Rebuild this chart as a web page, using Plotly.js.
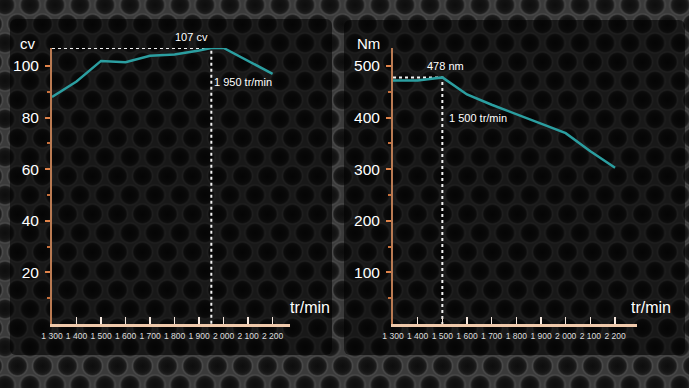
<!DOCTYPE html>
<html>
<head>
<meta charset="utf-8">
<script src="https://cdn.plot.ly/plotly-3.0.1.min.js"></script>
<style>
  html, body { margin:0; padding:0; }
  body {
    width:689px; height:388px; overflow:hidden; position:relative;
    background-color:#3a3a3a;
    background-image:
      radial-gradient(circle, #0d0d0d 0, #141414 6px, #1e1e1e 8.5px, #4a4a4a 10px, rgba(0,0,0,0) 11.5px),
      radial-gradient(circle, #0d0d0d 0, #141414 6px, #1e1e1e 8.5px, #4a4a4a 10px, rgba(0,0,0,0) 11.5px);
    background-size:25px 38px, 25px 38px;
    background-position:-7.5px -14px, 5px 5px;
  }
  .panel { position:absolute; background:rgba(0,0,0,0.58); border-radius:6px; }
  #chart { position:absolute; left:0; top:0; width:689px; height:388px; }
</style>
</head>
<body>
<div class="panel" style="left:10px; top:19px; width:322px; height:336px;"></div>
<div class="panel" style="left:344px; top:20px; width:341px; height:335px;"></div>
<div id="chart"></div>
<script>
// ---- data ----
const rpm = [1300, 1400, 1500, 1600, 1700, 1800, 1900, 1950, 2000, 2200];
const powerCv = [88, 94, 102, 101.5, 104, 104.5, 106, 107, 107, 97];
const rpmTorque = [1300, 1400, 1500, 1600, 1700, 1800, 1900, 2000, 2100, 2200];
const torqueNm = [472, 472, 478, 445, 425, 407, 389, 370, 335, 303];
const peakPowerRpm = 1950, peakPower = 107;
const peakTorqueRpm = 1500, peakTorque = 478;
const xTicks = [1300, 1400, 1500, 1600, 1700, 1800, 1900, 2000, 2100, 2200];
const xTickLabels = ["1 300", "1 400", "1 500", "1 600", "1 700", "1 800", "1 900", "2 000", "2 100", "2 200"];
const cvTicks = [20, 40, 60, 80, 100];
const cvMinor = [10, 30, 50, 70, 90];
const nmTicks = [100, 200, 300, 400, 500];
const nmMinor = [50, 150, 250, 350, 450];

// ---- layout helpers ----
const W = 689, H = 388;
const px = v => v / W;
const py = v => 1 - v / H;
const teal = '#2b9ea0';
const font = 'Arial, "Liberation Sans", sans-serif';

const traces = [
  {x: [rpm[0], peakPowerRpm, peakPowerRpm], y: [peakPower, peakPower, 0], xaxis: 'x', yaxis: 'y',
   mode: 'lines', line: {color: '#f2f2f2', width: 2, dash: 'dot'}, hoverinfo: 'skip'},
  {x: rpm, y: powerCv, xaxis: 'x', yaxis: 'y', mode: 'lines', line: {color: teal, width: 2.5}},
  {x: [rpmTorque[0], peakTorqueRpm, peakTorqueRpm], y: [peakTorque, peakTorque, 0], xaxis: 'x2', yaxis: 'y2',
   mode: 'lines', line: {color: '#f2f2f2', width: 2, dash: 'dot'}, hoverinfo: 'skip'},
  {x: rpmTorque, y: torqueNm, xaxis: 'x2', yaxis: 'y2', mode: 'lines', line: {color: teal, width: 2.5}}
];

function xAxis(domain, range, anchor) {
  return {
    domain: domain, range: range, anchor: anchor,
    tickvals: xTicks, ticktext: xTickLabels,
    ticks: 'inside', ticklen: 7, tickwidth: 1.5, tickcolor: '#f4e6dc',
    showline: true, linecolor: '#efc9ab', linewidth: 2.5,
    showgrid: false, zeroline: false, fixedrange: true,
    tickfont: {family: font, size: 8.5, color: '#dddddd'}, ticklabelstandoff: 2
  };
}
function yAxis(domain, range, anchor, major, minor) {
  return {
    domain: domain, range: range, anchor: anchor,
    tickvals: major, ticks: 'outside', ticklen: 5, tickwidth: 2, tickcolor: '#e0834a',
    minor: {tickvals: minor, ticks: 'outside', ticklen: 3, tickwidth: 2, tickcolor: '#c8703c'},
    showline: true, linecolor: '#b97a52', linewidth: 2,
    showgrid: false, zeroline: false, fixedrange: true,
    tickfont: {family: font, size: 15.5, color: '#ffffff'}, ticklabelstandoff: 3
  };
}

const yDom = [py(324), py(48)];
const layout = {
  width: W, height: H, margin: {l: 0, r: 0, t: 0, b: 0},
  paper_bgcolor: 'rgba(0,0,0,0)', plot_bgcolor: 'rgba(0,0,0,0)',
  showlegend: false,
  xaxis: xAxis([px(52), px(290)], [1300, 2271], 'y'),
  yaxis: yAxis(yDom, [0, 107], 'x', cvTicks, cvMinor),
  xaxis2: xAxis([px(393), px(637)], [1300, 2289], 'y2'),
  yaxis2: yAxis(yDom, [0, 535], 'x2', nmTicks, nmMinor),
  annotations: [
    {text: 'cv', xref: 'paper', yref: 'paper', x: px(28), y: py(43), xanchor: 'center', yanchor: 'middle', showarrow: false,
     font: {family: font, size: 15, color: '#fff'}},
    {text: 'tr/min', xref: 'paper', yref: 'paper', x: px(310), y: py(307), xanchor: 'center', yanchor: 'middle', showarrow: false,
     font: {family: font, size: 16, color: '#fff'}},
    {text: 'Nm', xref: 'paper', yref: 'paper', x: px(368), y: py(43), xanchor: 'center', yanchor: 'middle', showarrow: false,
     font: {family: font, size: 15, color: '#fff'}},
    {text: 'tr/min', xref: 'paper', yref: 'paper', x: px(651), y: py(307), xanchor: 'center', yanchor: 'middle', showarrow: false,
     font: {family: font, size: 16, color: '#fff'}},
    {text: peakPower + ' cv', xref: 'x', yref: 'y', x: peakPowerRpm, y: peakPower, xshift: -20, yshift: 11,
     showarrow: false, font: {family: font, size: 11, color: '#fff'}},
    {text: '1 950 tr/min', xref: 'x', yref: 'y', x: peakPowerRpm, y: 94, xanchor: 'left', xshift: 1,
     showarrow: false, font: {family: font, size: 11, color: '#fff'}},
    {text: peakTorque + ' nm', xref: 'x2', yref: 'y2', x: peakTorqueRpm, y: peakTorque, xshift: 3, yshift: 11,
     showarrow: false, font: {family: font, size: 11, color: '#fff'}},
    {text: '1 500 tr/min', xref: 'x2', yref: 'y2', x: peakTorqueRpm, y: 399, xanchor: 'left', xshift: 5,
     showarrow: false, font: {family: font, size: 11, color: '#fff'}}
  ]
};

Plotly.newPlot('chart', traces, layout, {staticPlot: true, displayModeBar: false});
</script>
</body>
</html>
